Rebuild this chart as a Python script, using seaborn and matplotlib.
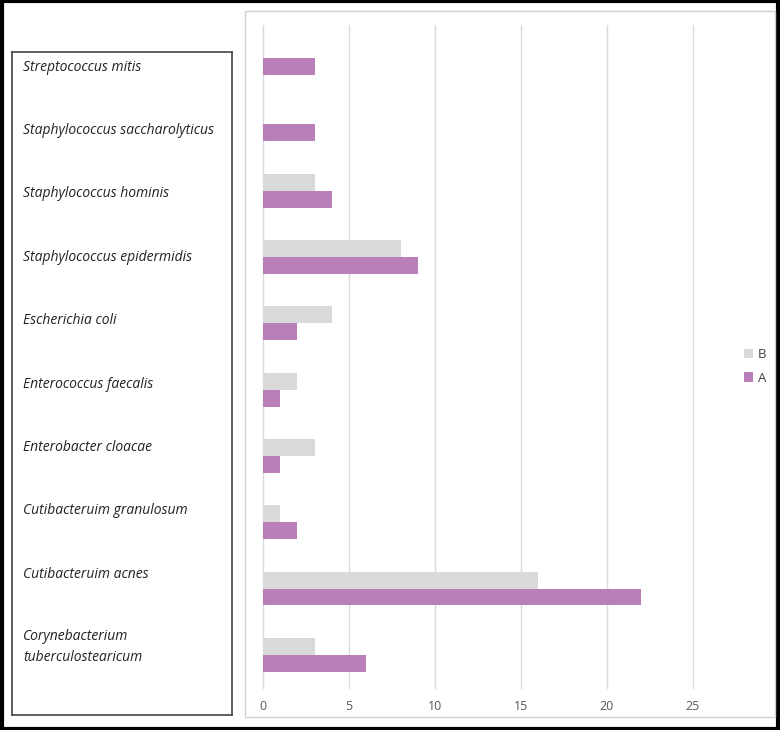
import matplotlib
matplotlib.use("Agg")
import matplotlib.pyplot as plt
from matplotlib.patches import Rectangle
import seaborn as sns
import pandas as pd

species = [
    "Streptococcus mitis",
    "Staphylococcus saccharolyticus",
    "Staphylococcus hominis",
    "Staphylococcus epidermidis",
    "Escherichia coli",
    "Enterococcus faecalis",
    "Enterobacter cloacae",
    "Cutibacteruim granulosum",
    "Cutibacteruim acnes",
    "Corynebacterium\ntuberculostearicum",
]
values_B = [0, 0, 3, 8, 4, 2, 3, 1, 16, 3]
values_A = [3, 3, 4, 9, 2, 1, 1, 2, 22, 6]
series = ["B", "A"]
xticks = [0, 5, 10, 15, 20, 25]

df = pd.DataFrame({
    "species": species * 2,
    "value": values_B + values_A,
    "group": ["B"] * len(species) + ["A"] * len(species),
})

sns.set_theme(style="white")
plt.rcParams["font.family"] = ["Open Sans", "DejaVu Sans"]

W, H = 780, 730
fig = plt.figure(figsize=(W / 100, H / 100), dpi=100)

def px_rect(x0, y0, x1, y1):
    return [x0 / W, 1 - y1 / H, (x1 - x0) / W, (y1 - y0) / H]

# outer black frame
fig.patches.append(Rectangle((0.002, 0.002), 0.996, 0.996, transform=fig.transFigure,
                             fill=False, edgecolor="black", linewidth=3))
# chart panel frame
fig.patches.append(Rectangle((245 / W, 1 - 717 / H), (775 - 245) / W, (717 - 11) / H,
                             transform=fig.transFigure, fill=False,
                             edgecolor="#d0d0d0", linewidth=1))

ax = fig.add_axes(px_rect(263, 25, 693, 688))
sns.barplot(data=df, y="species", x="value", hue="group", hue_order=series,
            order=species, orient="h", palette={"B": "#d9d9d9", "A": "#b97fba"},
            width=0.51, gap=0, saturation=1, linewidth=0, ax=ax, legend=True)
ax.set_xlim(0, 25)
ax.set_xticks(xticks)
ax.set_xticklabels([str(t) for t in xticks], color="#595959", fontsize=9)
ax.tick_params(axis="x", length=0, pad=9)
ax.set_yticks([])
ax.set_xlabel("")
ax.set_ylabel("")
for s in ax.spines.values():
    s.set_visible(False)
ax.grid(axis="x", color="#d9d9d9", linewidth=1)
for gl in ax.get_xgridlines():
    gl.set_clip_on(False)
ax.set_axisbelow(True)

handles, labels = ax.get_legend_handles_labels()
ax.legend(handles, labels, loc="center left", bbox_to_anchor=(1.09, 0.485),
          frameon=False, handlelength=0.7, handleheight=0.7, handletextpad=0.4,
          labelspacing=0.8, fontsize=9.5, labelcolor="#404040")

# label box
bx = fig.add_axes(px_rect(12, 52, 232, 715))
bx.set_xlim(0, 1)
bx.set_ylim(10.22, -0.237)
bx.set_xticks([])
bx.set_yticks([])
for s in bx.spines.values():
    s.set_color("#444444")
    s.set_linewidth(1.2)
for i, name in enumerate(species):
    yy = i + (0.15 if "\n" in name else 0)
    bx.text(0.05, yy, name, style="italic", fontsize=10, color="#222222",
            va="center", ha="left", linespacing=1.5)

fig.savefig("out.png", dpi=100)
